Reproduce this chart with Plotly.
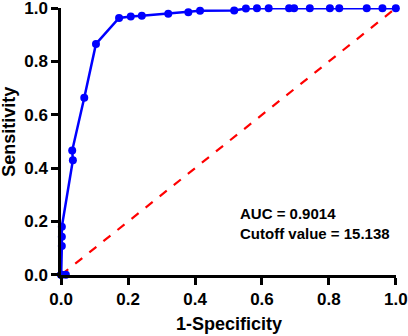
import plotly.graph_objects as go

# ROC points
fpr = [0.0, 0.0, 0.0, 0.014, 0.002, 0.002, 0.002, 0.035, 0.033, 0.069, 0.104, 0.173, 0.208, 0.241,
       0.320, 0.380, 0.415, 0.517, 0.552, 0.585, 0.620, 0.681, 0.696, 0.743, 0.803, 0.831,
       0.913, 0.960, 1.0]
tpr = [0.0, 0.0, 0.0, 0.0, 0.108, 0.143, 0.180, 0.430, 0.466, 0.664, 0.866, 0.963, 0.969, 0.971,
       0.979, 0.985, 0.990, 0.991, 0.999, 1.0, 1.0, 1.0, 1.0, 1.0, 1.0, 1.0,
       1.0, 1.0, 1.0]
order = [0, 1, 2, 3, 0, 4, 5, 6, 7, 8, 9, 10, 11, 12, 13, 14, 15, 16, 17, 18, 19, 20, 21, 22, 23, 24, 25, 26, 27, 28]
ref_x = [0, 1]
ref_y = [0, 1]
annot_lines = ["AUC = 0.9014", "Cutoff value = 15.138"]
x_ticks = [0.0, 0.2, 0.4, 0.6, 0.8, 1.0]
y_ticks = [0.0, 0.2, 0.4, 0.6, 0.8, 1.0]
tick_text = ["0.0", "0.2", "0.4", "0.6", "0.8", "1.0"]

FONT = "Liberation Sans"

line_x = [fpr[i] for i in order]
line_y = [tpr[i] for i in order]

fig = go.Figure()
fig.add_trace(go.Scatter(x=ref_x, y=ref_y, mode="lines",
                         line=dict(color="#ff0000", width=2.2, dash="dash"),
                         hoverinfo="skip", showlegend=False, cliponaxis=False))
fig.add_trace(go.Scatter(x=line_x, y=line_y, mode="lines",
                         line=dict(color="#0000ff", width=2.5),
                         showlegend=False, cliponaxis=False))
fig.add_trace(go.Scatter(x=fpr, y=tpr, mode="markers",
                         marker=dict(color="#0000ff", size=8),
                         showlegend=False, cliponaxis=False))

fig.add_annotation(x=0.528, y=0.194, xref="paper", yref="paper", xanchor="left", yanchor="middle",
                   text="<b>" + "<br>".join(annot_lines) + "</b>", showarrow=False, align="left",
                   font=dict(family=FONT, size=15, color="black"))
fig.add_annotation(x=-0.155, y=0.537, xref="paper", yref="paper", xanchor="center", yanchor="middle",
                   text="<b>Sensitivity</b>", textangle=-90, showarrow=False,
                   font=dict(family=FONT, size=18, color="black"))
fig.add_annotation(x=0.5, y=-0.183, xref="paper", yref="paper", xanchor="center", yanchor="middle",
                   text="<b>1-Specificity</b>", showarrow=False,
                   font=dict(family=FONT, size=18, color="black"))

axis_common = dict(range=[-0.0005, 1.0005], showgrid=False, zeroline=False, showline=True,
                   linecolor="black", linewidth=2.5, ticks="outside", ticklen=7,
                   tickwidth=2.5, tickcolor="black", mirror=False,
                   ticklabeloverflow="allow", automargin=False,
                   tickfont=dict(family=FONT, size=17, color="black", weight=700))
bold_ticks = ["<b>" + t + "</b>" for t in tick_text]
fig.update_xaxes(**axis_common, tickvals=x_ticks, ticktext=bold_ticks)
fig.update_yaxes(**axis_common, tickvals=y_ticks, ticktext=bold_ticks)
fig.update_layout(width=408, height=336, margin=dict(l=61, r=12, t=8, b=61, autoexpand=False),
                  plot_bgcolor="white", paper_bgcolor="white",
                  font=dict(family=FONT, color="black"))
fig.write_html("out.html", config={"displayModeBar": False},
               post_script="document.body.style.margin='0';document.body.style.overflow='hidden';")
